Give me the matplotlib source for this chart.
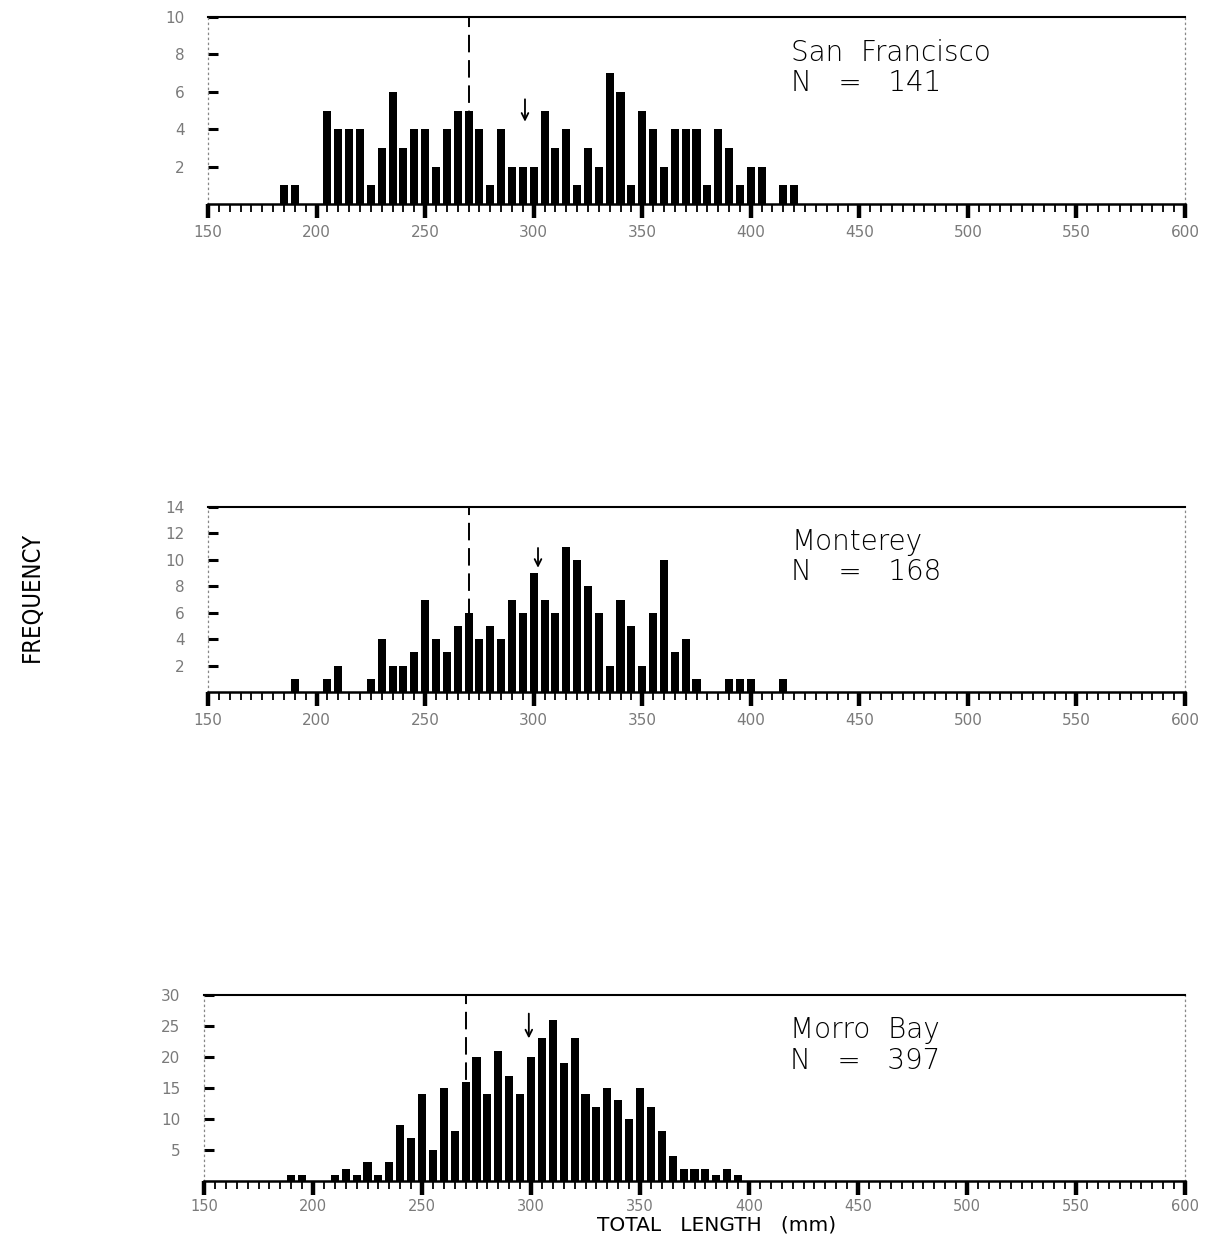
import matplotlib
matplotlib.use('Agg')
import matplotlib.pyplot as plt
from matplotlib.ticker import MultipleLocator

# ---------------- data ----------------
sf_bins = [185, 190, 195, 200, 205, 210, 215, 220, 225, 230, 235, 240, 245, 250, 255, 260,
           265, 270, 275, 280, 285, 290, 295, 300, 305, 310, 315, 320, 325, 330, 335, 340,
           345, 350, 355, 360, 365, 370, 375, 380, 385, 390, 395, 400, 405, 410, 415, 420]
sf_counts = [1, 1, 0, 0, 5, 4, 4, 4, 1, 3, 6, 3, 4, 4, 2, 4,
             5, 5, 4, 1, 4, 2, 2, 2, 5, 3, 4, 1, 3, 2, 7, 6,
             1, 5, 4, 2, 4, 4, 4, 1, 4, 3, 1, 2, 2, 0, 1, 1]

mo_bins = [190, 195, 200, 205, 210, 215, 220, 225, 230, 235, 240, 245, 250, 255, 260, 265,
           270, 275, 280, 285, 290, 295, 300, 305, 310, 315, 320, 325, 330, 335, 340, 345,
           350, 355, 360, 365, 370, 375, 380, 385, 390, 395, 400, 405, 410, 415]
mo_counts = [1, 0, 0, 1, 2, 0, 0, 1, 4, 2, 2, 3, 7, 4, 3, 5,
             6, 4, 5, 4, 7, 6, 9, 7, 6, 11, 10, 8, 6, 2, 7, 5,
             2, 6, 10, 3, 4, 1, 0, 0, 1, 1, 1, 0, 0, 1]

mb_bins = [190, 195, 200, 205, 210, 215, 220, 225, 230, 235, 240, 245, 250, 255, 260, 265,
           270, 275, 280, 285, 290, 295, 300, 305, 310, 315, 320, 325, 330, 335, 340, 345,
           350, 355, 360, 365, 370, 375, 380, 385, 390, 395]
mb_counts = [1, 1, 0, 0, 1, 2, 1, 3, 1, 3, 9, 7, 14, 5, 15, 8,
             16, 20, 14, 21, 17, 14, 20, 23, 26, 19, 23, 14, 12, 15, 13, 10,
             15, 12, 8, 4, 2, 2, 2, 1, 2, 1]

locations = ["San  Francisco", "Monterey", "Morro  Bay"]
sample_sizes = [141, 168, 397]
mean_lengths = [296, 302, 299]
ref_length = 270
y_max = [10, 14, 30]
y_step = [2, 2, 5]
x_ticks = [150, 200, 250, 300, 350, 400, 450, 500, 550, 600]

# ---------------- layout ----------------
W, H = 1222, 1236
fig = plt.figure(figsize=(W / 100, H / 100), dpi=100)
fig.patch.set_facecolor('white')

# (left, right, top, bottom) in pixels
boxes = [(208, 1185, 17, 204), (208, 1185, 507, 692), (204, 1185, 995, 1181)]
arrow_y = [(5.6, 4.4), (10.9, 9.4), (27.0, 23.0)]

panels = [(sf_bins, sf_counts), (mo_bins, mo_counts), (mb_bins, mb_counts)]

label_color = '#7a7a7a'

for i, ((bins, counts), (l, r, t, b)) in enumerate(zip(panels, boxes)):
    ax = fig.add_axes([l / W, 1 - b / H, (r - l) / W, (b - t) / H])
    ax.bar(bins, counts, width=3.7, color='black', zorder=3, linewidth=0)
    ax.set_xlim(150, 600)
    ax.set_ylim(0, y_max[i])

    # dashed reference line
    ax.axvline(ref_length, color='black', lw=1.4, ls=(0, (9, 4)), zorder=2)

    # mean arrow
    ya, yb = arrow_y[i]
    ax.annotate('', xy=(mean_lengths[i], yb), xytext=(mean_lengths[i], ya),
                arrowprops=dict(arrowstyle='->', lw=1.3, color='black',
                                shrinkA=0, shrinkB=0, mutation_scale=12))

    # spines
    ax.spines['top'].set_linewidth(1.5)
    ax.spines['bottom'].set_linewidth(1.8)
    for s in ('left', 'right'):
        ax.spines[s].set_linestyle((0, (1, 3)))
        ax.spines[s].set_color('#888888')
        ax.spines[s].set_linewidth(0.9)

    # x ticks
    ax.set_xticks(x_ticks)
    ax.set_xticklabels([str(v) for v in x_ticks])
    ax.xaxis.set_minor_locator(MultipleLocator(5))
    ax.tick_params(axis='x', which='major', direction='out', length=10, width=3.2,
                   labelsize=11 if i < 2 else 10.5, labelcolor=label_color,
                   pad=5 if i < 2 else 3)
    ax.tick_params(axis='x', which='minor', direction='out', length=6, width=1.3)

    # y ticks
    yt = list(range(y_step[i], y_max[i] + 1, y_step[i]))
    ax.set_yticks(yt)
    ax.set_yticklabels([str(v) for v in yt])
    ax.tick_params(axis='y', which='major', direction='in', length=7, width=2.2,
                   labelsize=11, labelcolor=label_color, pad=17)

    # location label
    ax.text(0.597, 0.885, f"{locations[i]}\nN   =   {sample_sizes[i]}",
            transform=ax.transAxes, ha='left', va='top', fontsize=20,
            fontweight='light', linespacing=1.1, color='black')

fig.text(0.026, 0.517, 'FREQUENCY', rotation=90, ha='center', va='center',
         fontsize=17, fontfamily='DejaVu Sans', fontstretch='condensed',
         fontweight='light', color='black')
fig.text(717 / W, 1.5 / H, 'TOTAL   LENGTH   (mm)', ha='center', va='bottom',
         fontsize=14.5, fontweight='normal', color='black')

fig.savefig('out.png', dpi=100, facecolor='white')
